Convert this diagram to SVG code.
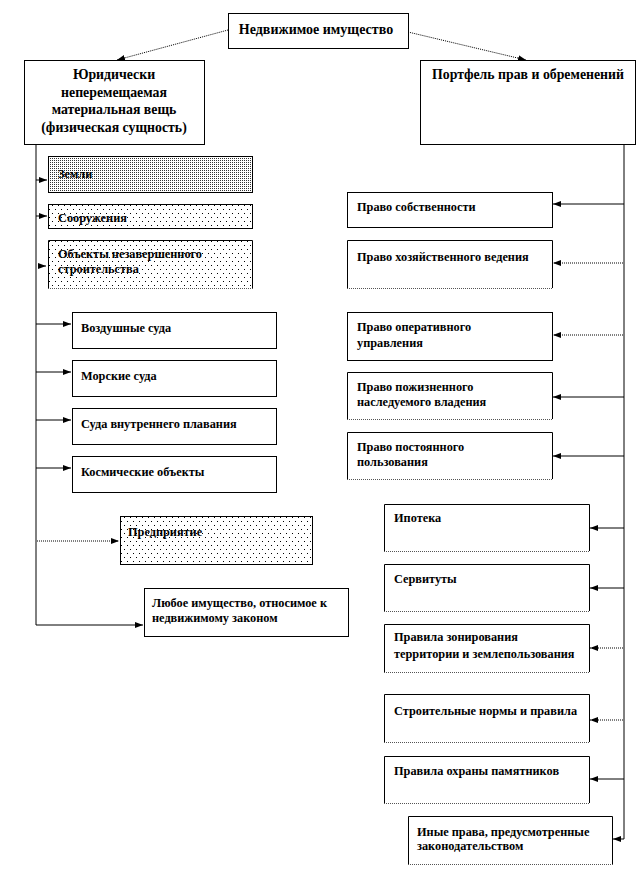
<svg xmlns="http://www.w3.org/2000/svg" width="639" height="876" viewBox="0 0 639 876">
<style>
text{font-family:"Liberation Serif","Times New Roman",serif;font-weight:bold;fill:#000}
.t{font-size:14px}
.m{font-size:13.8px}
.s{font-size:12.3px}
.b{fill:#fff;stroke:#000;stroke-width:1}
.ob{fill:none;stroke:#000;stroke-width:1}
.db{fill:none;stroke:#555;stroke-width:1;stroke-dasharray:1 1}
.c{fill:none;stroke:#000;stroke-width:1}
.d{fill:none;stroke:#000;stroke-width:1;stroke-dasharray:1 1}
</style>
<defs>
<marker id="ah" viewBox="0 0 8 8" refX="8" refY="4" markerWidth="8" markerHeight="8" markerUnits="userSpaceOnUse" orient="auto">
<path d="M0,1 L8,4 L0,7 Z" fill="#000"/>
</marker>
<pattern id="dense" width="2" height="2" patternUnits="userSpaceOnUse">
<rect width="2" height="2" fill="#fff"/>
<rect width="1" height="1" fill="#333"/>
</pattern>
<pattern id="sparse" width="6" height="8" patternUnits="userSpaceOnUse">
<rect width="6" height="8" fill="#fff"/>
<rect x="1" y="1" width="1" height="1" fill="#000"/>
<rect x="4" y="5" width="1" height="1" fill="#000"/>
</pattern>
</defs>

<g id="connectors">
<line class="d" x1="228" y1="30" x2="117" y2="60" marker-end="url(#ah)"/>
<line class="d" x1="408" y1="32" x2="526" y2="60" marker-end="url(#ah)"/>
<polyline class="c" points="36,144 36,625 143,625" marker-end="url(#ah)"/>
<line class="c" x1="36" y1="180" x2="47" y2="180" marker-end="url(#ah)"/>
<line class="c" x1="36" y1="216" x2="47" y2="216" marker-end="url(#ah)"/>
<line class="c" x1="38" y1="266" x2="46" y2="266" marker-end="url(#ah)"/>
<line class="c" x1="36" y1="324" x2="71" y2="324" marker-end="url(#ah)"/>
<line class="c" x1="36" y1="372" x2="71" y2="372" marker-end="url(#ah)"/>
<line class="c" x1="36" y1="420" x2="71" y2="420" marker-end="url(#ah)"/>
<line class="c" x1="36" y1="468" x2="71" y2="468" marker-end="url(#ah)"/>
<line class="d" x1="37" y1="541" x2="119" y2="541" marker-end="url(#ah)"/>
<polyline class="c" points="624,144 624,839 613,839" marker-end="url(#ah)"/>
<line class="c" x1="624" y1="204" x2="553" y2="204" marker-end="url(#ah)"/>
<line class="d" x1="623" y1="263" x2="553" y2="263" marker-end="url(#ah)"/>
<line class="d" x1="623" y1="335" x2="553" y2="335" marker-end="url(#ah)"/>
<line class="c" x1="624" y1="397" x2="553" y2="397" marker-end="url(#ah)"/>
<line class="c" x1="624" y1="456" x2="553" y2="456" marker-end="url(#ah)"/>
<line class="c" x1="624" y1="528" x2="590" y2="528" marker-end="url(#ah)"/>
<line class="c" x1="624" y1="588" x2="590" y2="588" marker-end="url(#ah)"/>
<line class="d" x1="623" y1="648" x2="590" y2="648" marker-end="url(#ah)"/>
<line class="d" x1="623" y1="720" x2="590" y2="720" marker-end="url(#ah)"/>
<line class="c" x1="624" y1="779" x2="590" y2="779" marker-end="url(#ah)"/>
</g>

<g id="n-root">
<rect class="b" x="228.5" y="13.5" width="180" height="35"/>
<text class="t" x="316" y="34" text-anchor="middle">Недвижимое имущество</text>
</g>
<g id="n-phys">
<rect class="b" x="24.5" y="60.5" width="180" height="84"/>
<text class="m" x="114" y="79" text-anchor="middle">Юридически</text>
<text class="m" x="114" y="97" text-anchor="middle">неперемещаемая</text>
<text class="m" x="114" y="114" text-anchor="middle">материальная вещь</text>
<text class="m" x="114" y="132" text-anchor="middle">(физическая сущность)</text>
</g>
<g id="n-portf">
<rect class="b" x="420.5" y="60.5" width="215" height="84"/>
<text class="m" x="528" y="79" text-anchor="middle">Портфель прав и обременений</text>
</g>

<g id="n-zemli">
<rect x="48.5" y="156.5" width="204" height="36" fill="url(#dense)" stroke="#000"/>
<text class="s" x="58" y="178">Земли</text>
</g>
<g id="n-soor">
<rect x="48.5" y="204.5" width="204" height="24" fill="url(#sparse)" stroke="#000"/>
<text class="s" x="58" y="222">Сооружения</text>
</g>
<g id="n-obj">
<rect x="48.5" y="240.5" width="204" height="48" fill="url(#sparse)"/>
<path class="ob" d="M48.5,288 V240.5 H252.5 V288"/>
<line class="db" x1="48" y1="288.5" x2="253" y2="288.5"/>
<text class="s" x="58" y="258">Объекты незавершенного</text>
<text class="s" x="58" y="273">строительства</text>
</g>
<g id="n-air">
<rect class="b" x="72.5" y="312.5" width="204" height="36"/>
<text class="s" x="81" y="332">Воздушные  суда</text>
</g>
<g id="n-sea">
<rect class="b" x="72.5" y="360.5" width="204" height="36"/>
<text class="s" x="81" y="380">Морские суда</text>
</g>
<g id="n-river">
<rect class="b" x="72.5" y="408.5" width="204" height="36"/>
<text class="s" x="81" y="428">Суда внутреннего плавания</text>
</g>
<g id="n-space">
<rect class="b" x="72.5" y="456.5" width="204" height="36"/>
<text class="s" x="81" y="476">Космические объекты</text>
</g>
<g id="n-enterprise">
<rect x="120.5" y="516.5" width="192" height="48" fill="url(#sparse)" stroke="#000"/>
<text class="s" x="128" y="536">Предприятие</text>
</g>
<g id="n-any">
<rect class="b" x="144.5" y="588.5" width="204" height="48"/>
<text class="s" x="152" y="607">Любое имущество, относимое к</text>
<text class="s" x="152" y="622">недвижимому законом</text>
</g>

<g id="n-own">
<rect class="b" x="347.5" y="192.5" width="205" height="35"/>
<text class="s" x="357" y="211">Право собственности</text>
</g>
<g id="n-econ">
<rect x="347.5" y="240.5" width="205" height="48" fill="#fff"/>
<path class="ob" d="M347.5,288 V240.5 H552.5 V288"/>
<line class="db" x1="347" y1="288.5" x2="553" y2="288.5"/>
<text class="s" x="357" y="261">Право хозяйственного  ведения</text>
</g>
<g id="n-oper">
<rect class="b" x="347.5" y="312.5" width="205" height="48"/>
<text class="s" x="357" y="331">Право оперативного</text>
<text class="s" x="357" y="347">управления</text>
</g>
<g id="n-life">
<rect x="347.5" y="372.5" width="205" height="47" fill="#fff"/>
<path class="ob" d="M347.5,419 V372.5 H552.5 V419"/>
<line class="db" x1="347" y1="419.5" x2="553" y2="419.5"/>
<text class="s" x="357" y="391">Право пожизненного</text>
<text class="s" x="357" y="406">наследуемого владения</text>
</g>
<g id="n-perm">
<rect x="347.5" y="432.5" width="205" height="47" fill="#fff"/>
<path class="ob" d="M347.5,479 V432.5 H552.5 V479"/>
<line class="db" x1="347" y1="479.5" x2="553" y2="479.5"/>
<text class="s" x="357" y="451">Право постоянного</text>
<text class="s" x="357" y="466">пользования</text>
</g>
<g id="n-mortgage">
<rect x="384.5" y="504.5" width="205" height="47" fill="#fff"/>
<path class="ob" d="M384.5,551 V504.5 H589.5 V551"/>
<line class="db" x1="384" y1="551.5" x2="590" y2="551.5"/>
<text class="s" x="394" y="522">Ипотека</text>
</g>
<g id="n-servit">
<rect x="384.5" y="564.5" width="205" height="47" fill="#fff"/>
<path class="ob" d="M384.5,611 V564.5 H589.5 V611"/>
<line class="db" x1="384" y1="611.5" x2="590" y2="611.5"/>
<text class="s" x="394" y="583">Сервитуты</text>
</g>
<g id="n-zoning">
<rect x="384.5" y="624.5" width="205" height="48" fill="#fff"/>
<path class="ob" d="M384.5,672 V624.5 H589.5 V672"/>
<line class="db" x1="384" y1="672.5" x2="590" y2="672.5"/>
<text class="s" x="394" y="641">Правила зонирования</text>
<text class="s" x="394" y="658">территории и землепользования</text>
</g>
<g id="n-build">
<rect x="384.5" y="694.5" width="205" height="48" fill="#fff"/>
<path class="ob" d="M384.5,742 V694.5 H589.5 V742"/>
<line class="db" x1="384" y1="742.5" x2="590" y2="742.5"/>
<text class="s" x="394" y="715">Строительные  нормы и правила</text>
</g>
<g id="n-monum">
<rect x="384.5" y="756.5" width="205" height="47" fill="#fff"/>
<path class="ob" d="M384.5,803 V756.5 H589.5 V803"/>
<line class="db" x1="384" y1="803.5" x2="590" y2="803.5"/>
<text class="s" x="394" y="775">Правила  охраны памятников</text>
</g>
<g id="n-other">
<rect x="408.5" y="816.5" width="204" height="48" fill="#fff"/>
<path class="ob" d="M408.5,864 V816.5 H612.5 V864"/>
<line class="db" x1="408" y1="864.5" x2="613" y2="864.5"/>
<text class="s" x="417" y="836">Иные права, предусмотренные</text>
<text class="s" x="417" y="850">законодательством</text>
</g>
</svg>
